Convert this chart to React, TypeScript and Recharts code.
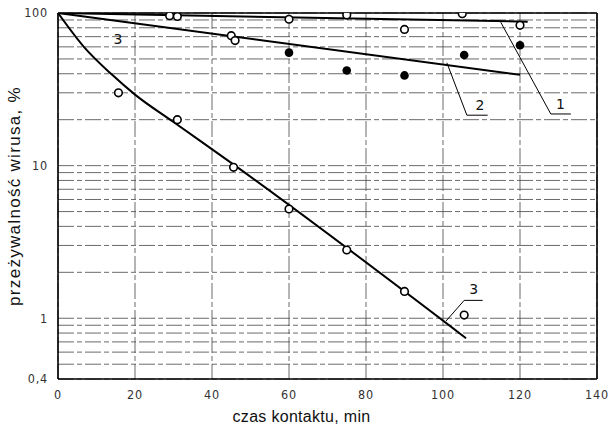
import React from 'react';
import { ComposedChart, Line, Scatter, XAxis, YAxis, CartesianGrid, ReferenceLine, ReferenceDot, Label } from 'recharts';

// czas kontaktu [min] / przeżywalność [%]
const xTicks = [0, 20, 40, 60, 80, 100, 120, 140];
const yTicks = [0.4, 0.5, 0.6, 0.7, 0.8, 0.9, 1, 2, 3, 4, 5, 6, 7, 8, 9, 10, 20, 30, 40, 50, 60, 70, 80, 90, 100];
const yTickLabels: Record<string, string> = { '0.4': '0,4', '1': '1', '10': '10', '100': '100' };

// fitted curves
const curve1 = [{ t: 0, v: 100 }, { t: 122, v: 87.7 }];
const curve2 = [{ t: 0, v: 100 }, { t: 120, v: 39.4 }];
const curve3 = [
  { t: 0, v: 100 }, { t: 6.6, v: 60.5 }, { t: 14, v: 39.5 }, { t: 20, v: 29.2 },
  { t: 30, v: 19.3 }, { t: 46, v: 10 }, { t: 106, v: 0.74 },
];

// measured points
const open1 = [
  { t: 29, v: 96 }, { t: 31, v: 95 }, { t: 60, v: 91 }, { t: 75, v: 97 },
  { t: 90, v: 78 }, { t: 105, v: 99 }, { t: 120, v: 83 },
];
const open2 = [{ t: 45, v: 71 }, { t: 46, v: 66 }];
const filled2 = [{ t: 60, v: 55 }, { t: 75, v: 42 }, { t: 90, v: 39 }, { t: 105.5, v: 53 }, { t: 120, v: 61.5 }];
const open3 = [
  { t: 15.7, v: 30 }, { t: 31, v: 20 }, { t: 45.6, v: 9.75 }, { t: 60, v: 5.2 },
  { t: 75, v: 2.8 }, { t: 90, v: 1.5 }, { t: 105.5, v: 1.05 },
];

// curve number callouts
const leader1 = [{ t: 115, v: 87 }, { t: 128, v: 21.8 }, { t: 133.2, v: 21.8 }];
const leader2 = [{ t: 101, v: 47.2 }, { t: 106.2, v: 21.4 }, { t: 111.6, v: 21.4 }];
const leader3 = [{ t: 100.8, v: 0.96 }, { t: 105.5, v: 1.31 }, { t: 110.3, v: 1.31 }];
const callouts = [
  { t: 130.5, v: 25.5, text: '1' },
  { t: 109.6, v: 25, text: '2' },
  { t: 108, v: 1.55, text: '3' },
  { t: 15.6, v: 68, text: '3' },
];

const tickFont = {
  fontFamily: 'DejaVu Sans Condensed, DejaVu Sans, sans-serif',
  fontSize: 12.5,
  letterSpacing: 0.8,
  fill: '#333',
};
const titleFont = { fontFamily: 'Liberation Sans, Arial, sans-serif', fill: '#111' };

const OpenDot = (props: any) => (
  <circle cx={props.cx} cy={props.cy} r={3.8} fill="#fff" stroke="#000" strokeWidth={1.6} />
);
const FullDot = (props: any) => <circle cx={props.cx} cy={props.cy} r={4.3} fill="#000" />;

export default function App() {
  return (
    <div style={{ position: 'absolute', left: 0, top: 0, background: '#fff' }}>
      <ComposedChart width={608} height={428} margin={{ top: 13, right: 11, bottom: 4, left: 8 }}>
        <CartesianGrid stroke="#444" strokeWidth={0.8} strokeDasharray="16 3 5 3" />
        <XAxis
          dataKey="t"
          type="number"
          domain={[0, 140]}
          ticks={xTicks}
          interval={0}
          height={45}
          tickLine={false}
          axisLine={{ stroke: '#000', strokeWidth: 1.6 }}
          tick={tickFont}
          tickMargin={5}
        >
          <Label
            value="czas kontaktu, min"
            position="insideBottom"
            offset={2}
            dx={-26}
            style={{ ...titleFont, fontSize: 16, letterSpacing: 0.3 }}
          />
        </XAxis>
        <YAxis
          dataKey="v"
          type="number"
          scale="log"
          domain={[0.4, 100]}
          allowDataOverflow
          ticks={yTicks}
          interval={0}
          width={50}
          tickLine={false}
          axisLine={{ stroke: '#000', strokeWidth: 1.6 }}
          tick={tickFont}
          tickMargin={4}
          tickFormatter={(val: number) => yTickLabels[String(val)] ?? ''}
        >
          <Label
            value="przeżywalność wirusa, %"
            angle={-90}
            position="insideLeft"
            offset={0}
            dx={6}
            style={{ ...titleFont, textAnchor: 'middle', fontSize: 17, letterSpacing: 1.3 }}
          />
        </YAxis>
        <ReferenceLine y={100} stroke="#000" strokeWidth={1.6} />
        <ReferenceLine x={140} stroke="#000" strokeWidth={1.6} />

        <Line data={curve1} dataKey="v" type="linear" stroke="#000" strokeWidth={2} dot={false} isAnimationActive={false} />
        <Line data={curve2} dataKey="v" type="linear" stroke="#000" strokeWidth={2} dot={false} isAnimationActive={false} />
        <Line data={curve3} dataKey="v" type="monotone" stroke="#000" strokeWidth={2} dot={false} isAnimationActive={false} />

        <Line data={leader1} dataKey="v" type="linear" stroke="#000" strokeWidth={1} dot={false} isAnimationActive={false} />
        <Line data={leader2} dataKey="v" type="linear" stroke="#000" strokeWidth={1} dot={false} isAnimationActive={false} />
        <Line data={leader3} dataKey="v" type="linear" stroke="#000" strokeWidth={1} dot={false} isAnimationActive={false} />

        <Scatter data={open1} dataKey="v" shape={OpenDot} isAnimationActive={false} />
        <Scatter data={open2} dataKey="v" shape={OpenDot} isAnimationActive={false} />
        <Scatter data={filled2} dataKey="v" shape={FullDot} isAnimationActive={false} />
        <Scatter data={open3} dataKey="v" shape={OpenDot} isAnimationActive={false} />

        {callouts.map((c, i) => (
          <ReferenceDot
            key={i}
            x={c.t}
            y={c.v}
            r={0}
            fill="none"
            stroke="none"
            label={{ value: c.text, position: 'center', fontFamily: 'DejaVu Sans, sans-serif', fontSize: 14, fill: '#111' }}
          />
        ))}
      </ComposedChart>
    </div>
  );
}
